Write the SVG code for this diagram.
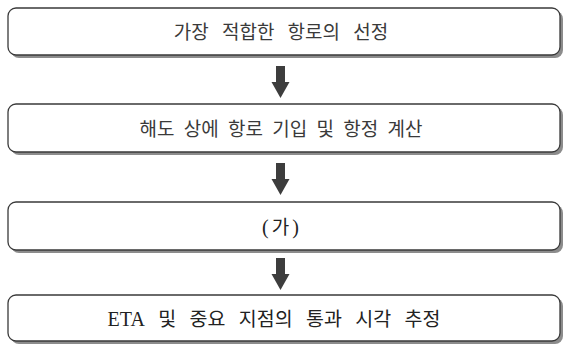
<svg xmlns="http://www.w3.org/2000/svg" width="564" height="345" viewBox="0 0 564 345">
<style>
.sh{fill:#8c8c8c;}
.bx{fill:#ffffff;stroke:#3a3a3a;stroke-width:1.3;}
.t{font-family:"Noto Sans CJK KR","Noto Sans",sans-serif;font-size:19px;fill:#3a3a3a;text-anchor:middle;font-weight:400;}
.s{font-family:"Liberation Serif","Noto Sans CJK KR",serif;font-size:20px;fill:#222222;text-anchor:middle;}
.k{font-family:"Noto Sans CJK KR",sans-serif;}
.ar{fill:#3d3d3d;}
</style>
<rect width="564" height="345" fill="#ffffff"/>
<g id="node1">
<rect class="sh" x="11" y="11" width="552" height="47" rx="8"/>
<rect class="bx" x="8" y="8" width="552" height="47" rx="8"/>
<text class="t" x="281" y="39" word-spacing="9">가장 적합한 항로의 선정</text>
</g>
<g id="node2">
<rect class="sh" x="11" y="107" width="552" height="48" rx="8"/>
<rect class="bx" x="8" y="104" width="552" height="48" rx="8"/>
<text class="t" x="281" y="136" word-spacing="5">해도 상에 항로 기입 및 항정 계산</text>
</g>
<g id="node3">
<rect class="sh" x="11" y="205" width="552" height="48" rx="8"/>
<rect class="bx" x="8" y="202" width="552" height="48" rx="8"/>
<text class="s" x="282" y="234" letter-spacing="3"><tspan>(</tspan><tspan class="k" font-size="19">가</tspan><tspan>)</tspan></text>
</g>
<g id="node4">
<rect class="sh" x="11" y="298" width="552" height="46" rx="8"/>
<rect class="bx" x="8" y="295" width="552" height="46" rx="8"/>
<text class="s" x="274" y="326" word-spacing="9">ETA<tspan class="k" font-size="19.5"> 및 중요 지점의 통과 시각 추정</tspan></text>
</g>
<g id="connectors">
<polygon class="ar" points="276,66 285,66 285,82 289.5,82 280.5,98 271.5,82 276,82"/>
<polygon class="ar" points="276,163 285,163 285,179 289.5,179 280.5,195 271.5,179 276,179"/>
<polygon class="ar" points="276,258 285,258 285,274 289.5,274 280.5,290 271.5,274 276,274"/>
</g>
</svg>
